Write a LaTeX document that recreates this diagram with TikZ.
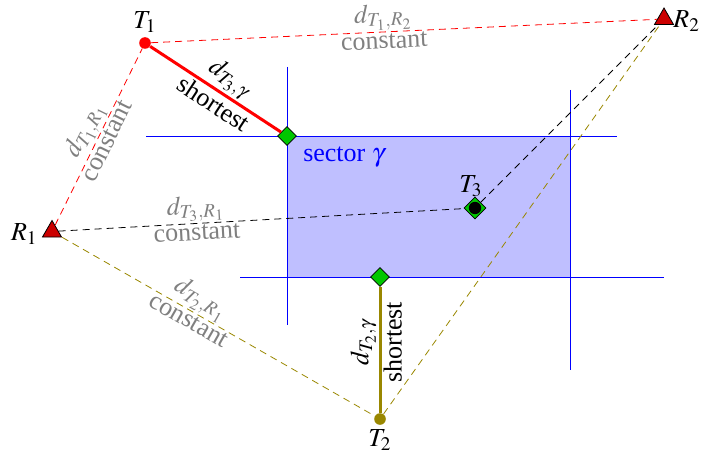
\documentclass[tikz,border=0pt]{standalone}
\usepackage{mathptmx}
\usepackage{fontspec}
\setmainfont{Liberation Serif}
\usetikzlibrary{shapes.geometric}
\definecolor{gridblue}{rgb}{0,0,1}
\definecolor{oliv}{rgb}{0.6,0.53,0}
\begin{document}
\begin{tikzpicture}[x=0.5pt,y=-0.5pt,
  font=\fontsize{13}{15}\selectfont,
  gridline/.style={draw=gridblue,line width=0.55pt},
  tri/.style={regular polygon,regular polygon sides=3,fill=red!80!black,draw=black,line width=0.4pt,inner sep=0pt,minimum size=11pt},
  dia/.style={diamond,fill=green!78!black,draw=black,line width=0.4pt,inner sep=0pt,minimum size=9.5pt},
  tdot/.style={circle,inner sep=0pt,minimum size=5.8pt},
  lab/.style={text=gray,sloped,inner sep=0.8pt},
  blab/.style={text=black,sloped,inner sep=1pt},
  dsh/.style={dash pattern=on 3.5pt off 2.5pt,line width=0.4pt},
  thickline/.style={line width=1.5pt}]
\useasboundingbox (0,0) rectangle (701,460);
% sector
\fill[blue!25] (287,136) rectangle (570,277);
\draw[gridline] (287.5,67) -- (287.5,325);
\draw[gridline] (570.5,90) -- (570.5,370);
\draw[gridline] (146,136.5) -- (617,136.5);
\draw[gridline] (240,277.5) -- (664,277.5);
\node[text=blue] (sec) at (344,157) {sector $\gamma$};
% nodes
\node[tri] (R1) at (52,231.5) {};
\node[tri] (R2) at (664,19) {};
\node[tdot,fill=red] (T1) at (145,43) {};
\node[tdot,fill=oliv] (T2) at (380,419) {};
\node[dia] (G1) at (287,136) {};
\node[dia] (G2) at (380,277) {};
\node[dia,minimum size=11pt] (T3d) at (475,208) {};
\node[circle,fill=black,inner sep=0pt,minimum size=6.2pt] (T3) at (475,208) {};
% labels of points
\node (lT1) at (145,22) {$T_1$};
\node[anchor=west,inner sep=0pt] (lR2) at (673,21) {$R_2$};
\node[anchor=east,inner sep=0pt] (lR1) at (38,234) {$R_1$};
\node (lT2) at (380,440) {$T_2$};
\node (lT3) at (471,186) {$T_3$};
% dashed connectors
\draw[dsh,red] (T1) -- node[lab,above,pos=.46] {$d_{T_1,R_2}$} node[lab,below,pos=.46] {constant} (R2);
\draw[dsh,red] (R1) -- node[lab,above,pos=.5] {$d_{T_1,R_1}$} node[lab,below,pos=.5] {constant} (T1);
\draw[dsh,black] (R1) -- node[lab,above,pos=.34] {$d_{T_3,R_1}$} node[lab,below,pos=.34] {constant} (T3d);
\draw[dsh,black] (T3d) -- (R2);
\draw[dsh,oliv] (R1) -- node[lab,above,pos=.42] {$d_{T_2,R_1}$} node[lab,below,pos=.42] {constant} (T2);
\draw[dsh,oliv] (T2) -- (R2);
% shortest connectors
\draw[thickline,red] (T1) -- node[blab,above,pos=.54] {$d_{T_3,\gamma}$} node[blab,below,pos=.54] {shortest} (G1);
\draw[thickline,oliv] (T2) -- node[blab,above,pos=.56] {$d_{T_2,\gamma}$} node[blab,below,pos=.56] {shortest} (G2);
\end{tikzpicture}
\end{document}
